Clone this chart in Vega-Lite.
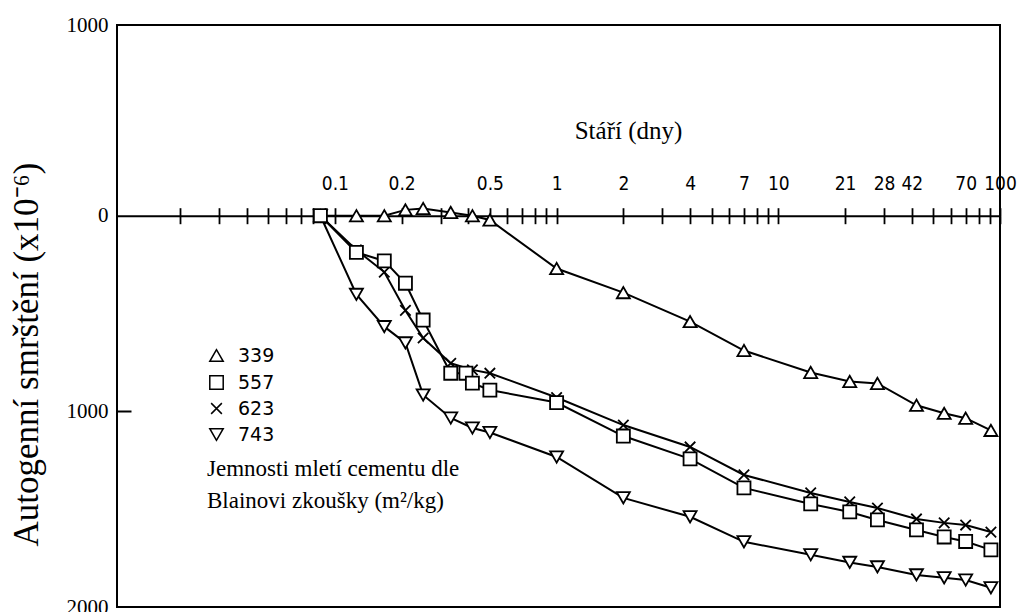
{
  "$schema": "https://vega.github.io/schema/vega-lite/v6.json",
  "width": 883,
  "height": 582,
  "autosize": {"type": "none"},
  "padding": {"left": 117, "top": 25, "right": 19, "bottom": 5},
  "background": "white",
  "config": {"view": {"stroke": "black", "strokeWidth": 2}, "axis": {"grid": false}, "point": {"opacity": 1}},
  "data": {"values": [
    {"t":0.086,"s":"339","v":0},{"t":0.125,"s":"339","v":0},{"t":0.167,"s":"339","v":0},{"t":0.208,"s":"339","v":-30},{"t":0.25,"s":"339","v":-37},{"t":0.333,"s":"339","v":-17},{"t":0.417,"s":"339","v":0},{"t":0.5,"s":"339","v":22},{"t":1,"s":"339","v":270},{"t":2,"s":"339","v":393},{"t":4,"s":"339","v":541},{"t":7,"s":"339","v":689},{"t":14,"s":"339","v":801},{"t":21,"s":"339","v":847},{"t":28,"s":"339","v":857},{"t":42,"s":"339","v":969},{"t":56,"s":"339","v":1010},{"t":70,"s":"339","v":1035},{"t":91,"s":"339","v":1097},
    {"t":0.086,"s":"623","v":0},{"t":0.125,"s":"623","v":175},{"t":0.167,"s":"623","v":288},{"t":0.208,"s":"623","v":484},{"t":0.25,"s":"623","v":625},{"t":0.333,"s":"623","v":754},{"t":0.417,"s":"623","v":788},{"t":0.5,"s":"623","v":805},{"t":1,"s":"623","v":929},{"t":2,"s":"623","v":1070},{"t":4,"s":"623","v":1182},{"t":7,"s":"623","v":1325},{"t":14,"s":"623","v":1417},{"t":21,"s":"623","v":1463},{"t":28,"s":"623","v":1494},{"t":42,"s":"623","v":1550},{"t":56,"s":"623","v":1570},{"t":70,"s":"623","v":1581},{"t":91,"s":"623","v":1617},
    {"t":0.086,"s":"743","v":0},{"t":0.125,"s":"743","v":402},{"t":0.167,"s":"743","v":567},{"t":0.208,"s":"743","v":650},{"t":0.25,"s":"743","v":916},{"t":0.333,"s":"743","v":1034},{"t":0.417,"s":"743","v":1085},{"t":0.5,"s":"743","v":1108},{"t":1,"s":"743","v":1233},{"t":2,"s":"743","v":1442},{"t":4,"s":"743","v":1539},{"t":7,"s":"743","v":1667},{"t":14,"s":"743","v":1733},{"t":21,"s":"743","v":1772},{"t":28,"s":"743","v":1795},{"t":42,"s":"743","v":1836},{"t":56,"s":"743","v":1851},{"t":70,"s":"743","v":1862},{"t":91,"s":"743","v":1902},
    {"t":0.086,"s":"557","v":0},{"t":0.125,"s":"557","v":187},{"t":0.167,"s":"557","v":231},{"t":0.208,"s":"557","v":345},{"t":0.25,"s":"557","v":533},{"t":0.333,"s":"557","v":805},{"t":0.39,"s":"557","v":805},{"t":0.417,"s":"557","v":856},{"t":0.5,"s":"557","v":891},{"t":1,"s":"557","v":955},{"t":2,"s":"557","v":1126},{"t":4,"s":"557","v":1243},{"t":7,"s":"557","v":1391},{"t":14,"s":"557","v":1473},{"t":21,"s":"557","v":1514},{"t":28,"s":"557","v":1555},{"t":42,"s":"557","v":1606},{"t":56,"s":"557","v":1642},{"t":70,"s":"557","v":1665},{"t":91,"s":"557","v":1708}
  ]},
  "layer": [
    {
      "mark": {"type": "line", "color": "black", "strokeWidth": 2},
      "encoding": {
        "x": {"field": "t", "type": "quantitative",
          "scale": {"type": "log", "domain": [0.0104, 100], "nice": false},
          "axis": {"orient": "top", "offset": -190.7,
            "values": [0.02,0.03,0.04,0.05,0.06,0.07,0.08,0.09,0.1,0.2,0.3,0.4,0.5,0.6,0.7,0.8,0.9,1,2,3,4,5,6,7,8,9,10,20,30,40,50,60,70,80,90,100],
            "format": "~g",
            "labelExpr": "(datum.value == 0.1 || datum.value == 0.2 || datum.value == 0.5 || datum.value == 1 || datum.value == 2 || datum.value == 4 || datum.value == 7 || datum.value == 10 || datum.value == 70 || datum.value == 100) ? datum.label : datum.value == 20 ? '21' : datum.value == 30 ? '28' : datum.value == 40 ? '42' : ''",
            "tickSize": 8, "tickWidth": 1.8, "tickColor": "black",
            "domainColor": "black", "domainWidth": 2,
            "labelFont": "Liberation Sans Narrow, DejaVu Sans Condensed, Liberation Sans", "labelFontSize": 19, "labelColor": "black",
            "labelPadding": 14, "labelOverlap": false, "labelFlush": false, "labelBound": false,
            "title": "Stáří (dny)", "titleFont": "Liberation Serif, Times New Roman, serif", "titleFontSize": 25,
            "titleFontWeight": "normal", "titleColor": "black",
            "titleX": 511, "titleY": -85.7, "titleAlign": "center", "titleBaseline": "middle", "titleAngle": 0,
            "grid": false}},
        "y": {"field": "v", "type": "quantitative",
          "scale": {"domain": [-975, 2000], "reverse": true, "nice": false, "zero": false},
          "axis": {"values": [-975, 0, 1000, 2000], "format": "d",
            "labelExpr": "datum.value < 0 ? '1000' : datum.label",
            "domain": false, "ticks": false,
            "labelFont": "Liberation Serif, Times New Roman, serif", "labelFontSize": 21, "labelColor": "black",
            "labelPadding": 9, "labelFlush": false, "labelOverlap": false, "labelBound": false,
            "title": "Autogenní smrštění (x10⁻⁶)", "titleFont": "Liberation Serif, Times New Roman, serif", "titleFontSize": 35,
            "titleFontWeight": "normal", "titleColor": "black",
            "titleX": -91, "titleY": 329, "titleAngle": 270, "titleAlign": "center", "titleBaseline": "middle",
            "grid": false}},
        "detail": {"field": "s", "type": "nominal"}
      }
    },
    {
      "mark": {"type": "point", "filled": true, "fill": "white", "stroke": "black", "strokeWidth": 1.8, "size": 170},
      "encoding": {
        "x": {"field": "t", "type": "quantitative",
          "axis": {"orient": "bottom", "offset": -391.3,
            "values": [0.02,0.03,0.04,0.05,0.06,0.07,0.08,0.09,0.1,0.2,0.3,0.4,0.5,0.6,0.7,0.8,0.9,1,2,3,4,5,6,7,8,9,10,20,30,40,50,60,70,80,90,100],
            "labels": false, "domain": false, "tickSize": 8, "tickWidth": 1.8, "tickColor": "black",
            "title": null, "grid": false}},
        "y": {"field": "v", "type": "quantitative",
          "axis": {"orient": "left", "offset": -14, "values": [1000], "labels": false, "domain": false,
            "tickSize": 14, "tickWidth": 2, "tickColor": "black", "title": null, "grid": false}},
        "shape": {"field": "s", "type": "nominal",
          "scale": {"domain": ["339", "557", "623", "743"],
                    "range": ["triangle-up", "square", "M-0.8,-0.8L0.8,0.8M-0.8,0.8L0.8,-0.8", "triangle-down"]},
          "legend": {"orient": "none", "legendX": 90, "legendY": 321,
            "title": ["Jemnosti mletí cementu dle", "Blainovi zkoušky (m²/kg)"],
            "titleOrient": "bottom", "titleLineHeight": 32, "titlePadding": 13,
            "titleFont": "Liberation Serif, Times New Roman, serif", "titleFontSize": 23,
            "titleFontWeight": "normal", "titleColor": "black", "titleLimit": 500,
            "labelFont": "DejaVu Sans", "labelFontSize": 19, "labelColor": "black",
            "symbolSize": 180, "symbolStrokeWidth": 1.5, "rowPadding": 6, "labelOffset": 12,
            "encode": {"symbols": {"update": {
              "size": {"signal": "datum.value === '557' ? 90 : datum.value === '623' ? 90 : 240"}
            }}}}}
      }
    }
  ],
  "resolve": {"axis": {"x": "independent", "y": "independent"}}
}
